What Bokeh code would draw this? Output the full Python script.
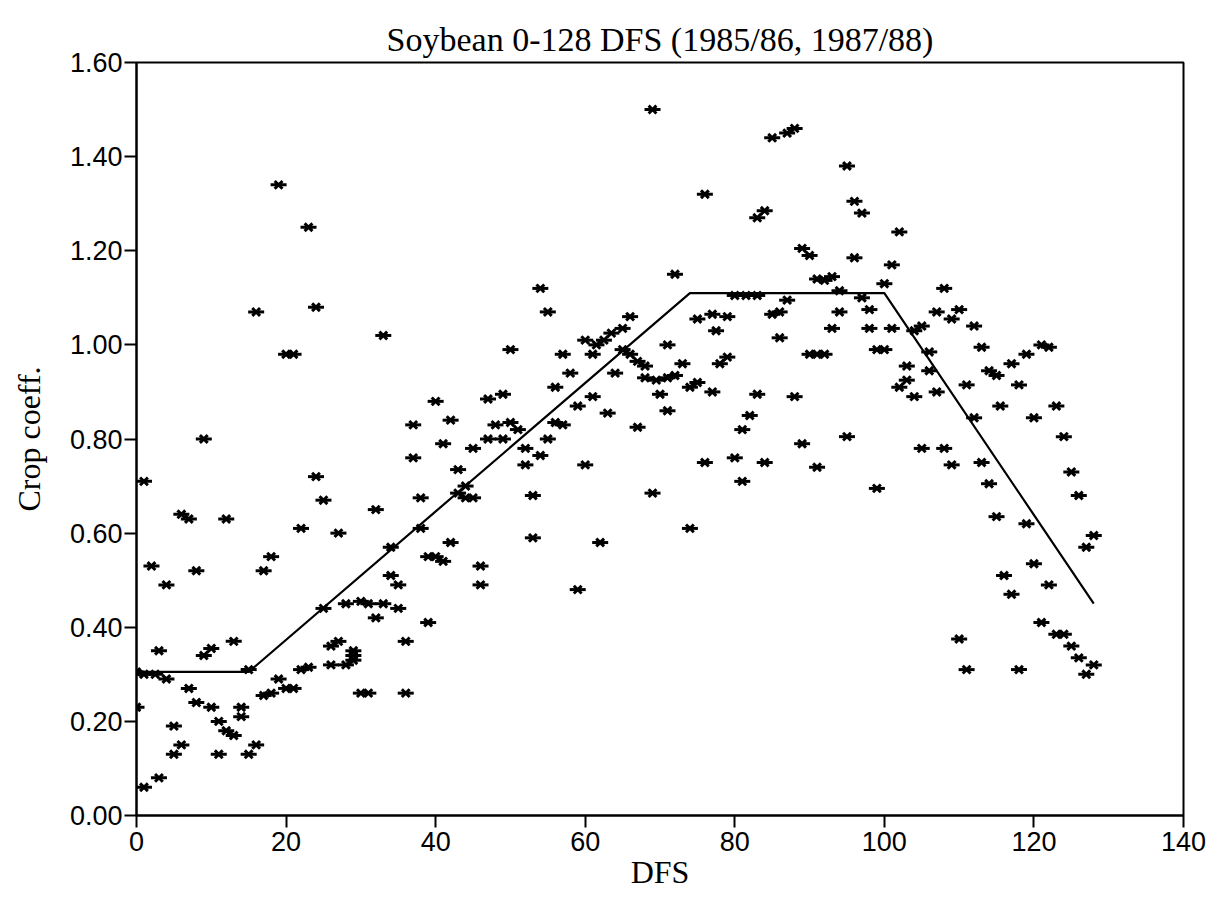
from bokeh.plotting import figure
from bokeh.models import Range1d, FixedTicker, PrintfTickFormatter, ColumnDataSource
from bokeh.embed import file_html
from bokeh.resources import INLINE

# Scatter data: (DFS, crop coefficient)
pts = [
    (19,1.34),(23,1.25),(16,1.07),(24,1.08),(33,1.02),(20,0.98),(21,0.98),(37,0.83),(40,0.88),(9,0.80),
    (1,0.71),(24,0.72),(37,0.76),(25,0.67),(38,0.675),(32,0.65),(6,0.64),(7,0.63),(12,0.63),(22,0.61),
    (27,0.60),(38,0.61),(18,0.55),(17,0.52),(2,0.53),(8,0.52),(4,0.49),(34,0.57),(34,0.51),(35,0.49),
    (25,0.44),(28,0.45),(30,0.455),(31,0.45),(33,0.45),(32,0.42),(35,0.44),(39,0.41),(36,0.37),(26,0.36),
    (27,0.37),(29,0.35),(29,0.34),(26,0.32),(28,0.32),(29,0.33),(22,0.31),(23,0.315),(19,0.29),(17,0.255),
    (18,0.26),(20,0.27),(21,0.27),(30,0.26),(31,0.26),(36,0.26),(15,0.31),(13,0.37),(3,0.35),(9,0.34),
    (10,0.355),(0,0.305),(1,0.30),(2.5,0.30),(4,0.29),(7,0.27),(8,0.24),(10,0.23),(0,0.23),(14,0.23),
    (14,0.21),(11,0.20),(12,0.18),(13,0.17),(5,0.19),(6,0.15),(5,0.13),(11,0.13),(15,0.13),(16,0.15),
    (3,0.08),(1,0.06),
    (69,1.50),(76,1.32),(72,1.15),(54,1.12),(55,1.07),(75,1.055),(77,1.065),(77.5,1.03),(66,1.06),(65,1.035),
    (63.5,1.025),(62.5,1.01),(61.5,1.0),(60,1.01),(61,0.98),(57,0.98),(65,0.99),(66,0.98),(71,1.0),(67,0.965),
    (68,0.955),(73,0.96),(78,0.96),(64,0.94),(58,0.94),(68,0.93),(69.5,0.925),(71,0.93),(72,0.935),(74,0.91),
    (75,0.92),(77,0.90),(70,0.895),(71,0.86),(67,0.825),(63,0.855),(61,0.89),(59,0.87),(56,0.91),(50,0.99),
    (42,0.84),(47,0.885),(49,0.895),(48,0.83),(50,0.835),(51,0.82),(56,0.835),(57,0.83),(55,0.80),(41,0.79),
    (45,0.78),(47,0.80),(49,0.80),(52,0.78),
    (54,0.765),(52,0.745),(60,0.745),(76,0.75),(43,0.735),(69,0.685),(53,0.68),(44,0.70),(43,0.685),(44,0.675),
    (45,0.675),(74,0.61),(62,0.58),(53,0.59),(42,0.58),(39,0.55),(40,0.55),(41,0.54),(46,0.53),(46,0.49),
    (59,0.48),
    (85,1.44),(87,1.45),(88,1.46),(95,1.38),(96,1.305),(97,1.28),(83,1.27),(84,1.285),(102,1.24),(89,1.205),
    (90,1.19),(96,1.185),(101,1.17),(91,1.14),(92,1.137),(93,1.145),(100,1.13),(108,1.12),(94,1.115),(80,1.105),
    (81.5,1.105),(83,1.105),(87,1.095),(97,1.10),(98,1.075),(79,1.06),(85,1.065),(86,1.07),(86,1.015),(94,1.07),
    (93,1.035),(98,1.035),(101,1.035),(104,1.03),(105,1.04),(107,1.07),(109,1.055),(110,1.075),(112,1.04),(79,0.974),
    (90,0.98),(91,0.98),(92,0.98),(99,0.99),(100,0.99),(106,0.985),(103,0.955),(106,0.945),(113,0.995),(114,0.945),
    (115,0.935),(103,0.925),(102,0.91),(104,0.89),(107,0.90),(111,0.915),(115.5,0.87),(112,0.845),(83,0.895),(88,0.89),
    (82,0.85),(81,0.82),(89,0.79),(95,0.805),(105,0.78),(108,0.78),
    (80,0.76),(84,0.75),(81,0.71),(91,0.74),(99,0.695),(109,0.745),(113,0.75),(114,0.705),(115,0.635),(116,0.51),
    (110,0.375),(111,0.31),
    (121,1.0),(122,0.995),(119,0.98),(117,0.96),(118,0.915),(120,0.845),(123,0.87),(124,0.805),(125,0.73),(126,0.68),
    (119,0.62),(128,0.595),(127,0.57),(120,0.535),(117,0.47),(122,0.49),(121,0.41),(123,0.385),(124,0.385),(125,0.36),
    (126,0.335),(128,0.32),(127,0.30),(118,0.31),
]
dfs = [p_[0] for p_ in pts]
kc = [p_[1] for p_ in pts]

# Crop coefficient curve
line_dfs = [0, 15, 74, 100, 128]
line_kc = [0.305, 0.305, 1.11, 1.11, 0.45]

x_ticks = [0, 20, 40, 60, 80, 100, 120, 140]
y_ticks = [0.0, 0.2, 0.4, 0.6, 0.8, 1.0, 1.2, 1.4, 1.6]

title_text = "Soybean 0-128 DFS (1985/86, 1987/88)"

p = figure(width=1221, height=901, output_backend="svg", toolbar_location=None,
           x_range=Range1d(0, 140), y_range=Range1d(0, 1.6),
           min_border_left=136, min_border_right=38, min_border_top=62, min_border_bottom=86,
           title=title_text)
p.title.text_font = "Liberation Serif"
p.title.text_font_size = "34px"
p.title.text_font_style = "normal"
p.title.text_color = "black"
p.title.align = "center"
p.title.standoff = 10

p.background_fill_color = "white"
p.border_fill_color = "white"
p.outline_line_color = "black"
p.outline_line_width = 2
p.grid.visible = False

for ax in (p.xaxis[0], p.yaxis[0]):
    ax.axis_line_width = 2
    ax.major_tick_line_width = 2
    ax.major_tick_in = 0
    ax.major_tick_out = 12
    ax.minor_tick_line_color = None
    ax.major_label_text_font = "Liberation Sans"
    ax.major_label_text_font_size = "27px"
    ax.major_label_text_color = "black"
    ax.axis_label_text_font = "Liberation Serif"
    ax.axis_label_text_font_size = "32px"
    ax.axis_label_text_font_style = "normal"
    ax.axis_label_text_color = "black"

p.xaxis.ticker = FixedTicker(ticks=x_ticks)
p.yaxis.ticker = FixedTicker(ticks=y_ticks)
p.yaxis.formatter = PrintfTickFormatter(format="%.2f")
p.xaxis.axis_label = "DFS"
p.yaxis.axis_label = "Crop coeff."
p.yaxis.major_label_standoff = 2
p.xaxis.major_label_standoff = 4
p.xaxis.axis_label_standoff = 0
p.yaxis.axis_label_standoff = 20

src = ColumnDataSource(dict(x=dfs, y=kc))
p.scatter("x", "y", source=src, marker="x", size=11, line_color="black", line_width=3)
p.scatter("x", "y", source=src, marker="dash", size=16, line_color="black", line_width=3)

p.line(line_dfs, line_kc, line_color="black", line_width=2.2)

open("out.html", "w").write(file_html(p, INLINE))
